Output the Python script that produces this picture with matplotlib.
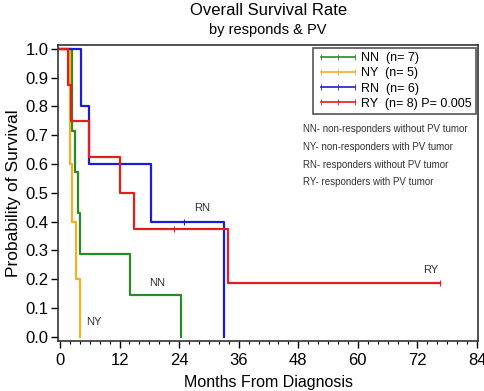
import matplotlib
matplotlib.use('Agg')
import matplotlib.pyplot as plt
import matplotlib.ticker as mticker
from matplotlib.lines import Line2D

plt.rcParams['font.family'] = ['Liberation Sans', 'DejaVu Sans']

# Kaplan-Meier step data (months, survival)
nn_t = [0, 2.35, 3.1, 3.55, 4.0, 14.1, 24.3]
nn_s = [1.0, 0.714, 0.571, 0.429, 0.286, 0.143, 0.0]
ny_t = [0, 2.1, 2.4, 3.2, 4.0]
ny_s = [1.0, 0.6, 0.4, 0.2, 0.0]
rn_t = [0, 4.2, 5.9, 18.4, 33.0]
rn_s = [1.0, 0.8, 0.6, 0.4, 0.0]
ry_t = [0, 1.55, 2.2, 5.9, 12.1, 15.0, 33.9, 76.6]
ry_s = [1.0, 0.875, 0.75, 0.625, 0.5, 0.375, 0.1875, 0.1875]

# censored observations
rn_cens_t = [24.9]
rn_cens_s = [0.4]
ry_cens_t = [23.0, 76.6]
ry_cens_s = [0.375, 0.1875]

groups = ['NN', 'NY', 'RN', 'RY']
group_n = [7, 5, 6, 8]
colors = ['#2a8a2a', '#f2b024', '#1c1cd6', '#e11f1f']
p_value = 0.005

notes = ['NN- non-responders without PV tumor',
         'NY- non-responders with PV tumor',
         'RN- responders without PV tumor',
         'RY- responders with PV tumor']

curve_labels = {'RN': (28.7, 0.43), 'NN': (19.5, 0.17), 'NY': (6.9, 0.035), 'RY': (74.6, 0.215)}

fig = plt.figure(figsize=(4.85, 3.91), dpi=100)
ax = fig.add_axes([0.1196, 0.1279, 0.866, 0.757])

curves = [(nn_t, nn_s), (ny_t, ny_s), (rn_t, rn_s), (ry_t, ry_s)]
for (t, s), c in zip(curves, colors):
    ax.step(t, s, where='post', color=c, linewidth=1.6)

ax.plot(rn_cens_t, rn_cens_s, linestyle='None', marker='|', markersize=4, color=colors[2], markeredgewidth=0.8)
ax.plot(ry_cens_t, ry_cens_s, linestyle='None', marker='|', markersize=4, color=colors[3], markeredgewidth=0.8)

for name, (x, y) in curve_labels.items():
    ax.text(x, y, name, fontsize=8, color='#333333', ha='center', va='bottom')

ax.set_xlim(-0.4, 84.2)
ax.set_ylim(-0.015, 1.013)
ax.xaxis.set_major_locator(mticker.MultipleLocator(12))
ax.xaxis.set_minor_locator(mticker.MultipleLocator(2))
ax.yaxis.set_major_locator(mticker.MultipleLocator(0.1))
ax.yaxis.set_major_formatter(mticker.FormatStrFormatter('%.1f'))
ax.tick_params(axis='both', which='major', labelsize=12, length=5, width=1, direction='out')
ax.tick_params(axis='x', which='major', pad=4)
ax.tick_params(axis='y', which='major', pad=2)
ax.tick_params(axis='x', which='minor', length=2.5, width=0.8)
for sp in ax.spines.values():
    sp.set_linewidth(1.2)
    sp.set_color('#333333')

ax.set_xlabel('Months From Diagnosis', fontsize=11.5, labelpad=5)
ax.set_ylabel('Probability of Survival', fontsize=12.5, labelpad=3)

fig.text(0.553, 0.972, 'Overall Survival Rate', fontsize=12, ha='center', va='center')
fig.text(0.553, 0.922, 'by responds & PV', fontsize=10.5, ha='center', va='center')

# legend
handles = [Line2D([], [], color=c, linewidth=1.2, marker='|', markersize=4, markeredgewidth=0.6)
           for c in colors]
labels = ['%s  (n= %d)' % (g, n) for g, n in zip(groups, group_n)]
labels[-1] += ' P= %.3f' % p_value
leg = ax.legend(handles, labels, loc='upper right', bbox_to_anchor=(0.996, 0.99), fontsize=9,
                numpoints=3, handlelength=3.3, handletextpad=0.2, labelspacing=0.25,
                borderpad=0.35, fancybox=False, framealpha=1, borderaxespad=0)
leg.get_frame().set_edgecolor('#555555')
leg.get_frame().set_linewidth(1.2)

for i, note in enumerate(notes):
    ax.text(0.584, 0.716 - i * 0.06, note, transform=ax.transAxes, fontsize=7,
            family='Liberation Sans', color='#333333', va='center', ha='left')

fig.savefig('out.png', dpi=100)
